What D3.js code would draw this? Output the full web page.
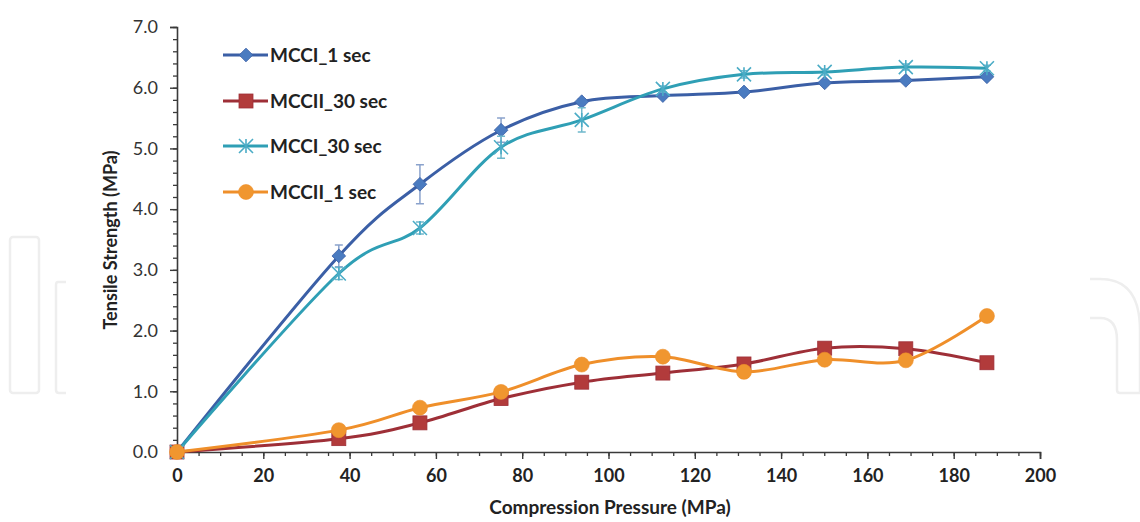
<!DOCTYPE html>
<html><head><meta charset="utf-8">
<script src="https://cdn.jsdelivr.net/npm/d3@7"></script>
<style>html,body{margin:0;padding:0;background:#fff;}svg{display:block;}</style>
</head><body>
<svg id="chart" width="1140" height="522"></svg>
<script>
// ---- data ----
const pressure = [0, 37.5, 56.3, 75.1, 93.8, 112.6, 131.4, 150.1, 168.9, 187.7];
const mcci1 = [0, 3.23, 4.41, 5.30, 5.77, 5.87, 5.93, 6.08, 6.12, 6.18];
const mcci1Err = [0, 0.18, 0.32, 0.20, 0.05, 0.04, 0.04, 0.04, 0.04, 0.04];
const mccii30 = [0, 0.22, 0.48, 0.88, 1.15, 1.30, 1.45, 1.71, 1.70, 1.47];
const mcci30 = [0, 2.94, 3.69, 5.02, 5.47, 5.98, 6.22, 6.26, 6.34, 6.32];
const mcci30Err = [0, 0.10, 0.10, 0.18, 0.20, 0.05, 0.06, 0.05, 0.05, 0.05];
const mccii1 = [0, 0.36, 0.73, 0.99, 1.44, 1.57, 1.32, 1.52, 1.51, 2.24];
const seriesNames = ["MCCI_1 sec", "MCCII_30 sec", "MCCI_30 sec", "MCCII_1 sec"];
const xTicks = [0, 20, 40, 60, 80, 100, 120, 140, 160, 180, 200];
const yTicks = [0, 1, 2, 3, 4, 5, 6, 7];
const xTitle = "Compression Pressure (MPa)";
const yTitle = "Tensile Strength (MPa)";

const series = [
  {name: seriesNames[0], values: mcci1, err: mcci1Err, line: "#3b5fa6", fill: "#4a7bc0", errc: "#8aa2cc", marker: "diamond"},
  {name: seriesNames[1], values: mccii30, err: null, line: "#9e2f37", fill: "#b23b3b", marker: "square"},
  {name: seriesNames[2], values: mcci30, err: mcci30Err, line: "#2f9fb5", fill: "#4bacc6", errc: "#6fb8cc", marker: "star"},
  {name: seriesNames[3], values: mccii1, err: null, line: "#ef8f2a", fill: "#f0962f", marker: "circle"}
];

const svg = d3.select("#chart");
const x = d3.scaleLinear().domain([0, 200]).range([177, 1040]);
const y = d3.scaleLinear().domain([0, 7]).range([452, 27]);

// ---- watermark (faint logo outlines) ----
const wm = svg.append("g").attr("fill", "none").attr("stroke", "#eeeeee").attr("stroke-width", 2.5);
wm.append("rect").attr("x", 10).attr("y", 237).attr("width", 29).attr("height", 156).attr("rx", 3);
wm.append("path").attr("d", "M66,282 L58,282 Q56,282 56,285 L56,390 Q56,393 59,393 L66,393");
wm.append("path").attr("d", "M1090,279 L1100,279 Q1140,279 1140,330 L1140,393 M1090,318 L1100,318 Q1117,318 1117,340 L1117,390 Q1117,393 1120,393 L1140,393");

// ---- axes ----
const axisColor = "#3a3a3a";
const gx = svg.append("g").attr("transform", `translate(0,${y(0)})`);
gx.call(d3.axisBottom(x).tickValues(d3.range(0, 201, 5)).tickSize(4).tickFormat(""));
gx.selectAll(".tick line").attr("stroke", axisColor).attr("stroke-width", 1.3);
gx.select(".domain").remove();
const gx2 = svg.append("g").attr("transform", `translate(0,${y(0)})`);
gx2.call(d3.axisBottom(x).tickValues(xTicks).tickSize(7).tickPadding(10).tickFormat(d3.format("d")));
gx2.select(".domain").attr("stroke", axisColor).attr("stroke-width", 1.6);
gx2.selectAll(".tick line").attr("stroke", axisColor).attr("stroke-width", 1.4);
gx2.selectAll(".tick text").attr("font-family", "Lato, sans-serif").attr("font-size", 18).attr("font-weight", "bold").attr("fill", "#222");

const gy = svg.append("g").attr("transform", `translate(${x(0)},0)`);
gy.call(d3.axisLeft(y).tickValues(d3.range(0, 7.01, 0.2)).tickSize(4).tickFormat(""));
gy.selectAll(".tick line").attr("stroke", axisColor).attr("stroke-width", 1.3);
gy.select(".domain").remove();
const gy2 = svg.append("g").attr("transform", `translate(${x(0)},0)`);
gy2.call(d3.axisLeft(y).tickValues(yTicks).tickSize(7).tickPadding(12).tickFormat(d3.format(".1f")));
gy2.select(".domain").attr("stroke", axisColor).attr("stroke-width", 1.6);
gy2.selectAll(".tick line").attr("stroke", axisColor).attr("stroke-width", 1.4);
gy2.selectAll(".tick text").attr("font-family", "Lato, sans-serif").attr("font-size", 18).attr("fill", "#333");

svg.append("text").attr("x", 610).attr("y", 514).attr("text-anchor", "middle")
  .attr("font-family", "Lato, sans-serif").attr("font-size", 19).attr("font-weight", "bold").attr("fill", "#222").text(xTitle);
svg.append("text").attr("transform", "translate(117,240) rotate(-90)").attr("text-anchor", "middle")
  .attr("font-family", "Lato, sans-serif").attr("font-size", 18).attr("font-weight", "bold").attr("fill", "#222").text(yTitle);

// ---- markers ----
function drawMarker(g, type, cx, cy, s) {
  if (type === "diamond") {
    g.append("path").attr("d", d3.symbol(d3.symbolDiamond2, 120)()).attr("transform", `translate(${cx},${cy})`)
      .attr("fill", s.fill).attr("stroke", s.line).attr("stroke-width", 0.8);
  } else if (type === "square") {
    g.append("rect").attr("x", cx - 7).attr("y", cy - 7).attr("width", 14).attr("height", 14)
      .attr("fill", s.fill).attr("stroke", s.line).attr("stroke-width", 0.8);
  } else if (type === "circle") {
    g.append("circle").attr("cx", cx).attr("cy", cy).attr("r", 7.5).attr("fill", s.fill).attr("stroke", s.line).attr("stroke-width", 0.6);
  } else if (type === "star") {
    const r = 7;
    g.append("path").attr("d", `M${cx - r},${cy - r}L${cx + r},${cy + r}M${cx - r},${cy + r}L${cx + r},${cy - r}M${cx},${cy - r}L${cx},${cy + r}`)
      .attr("stroke", s.fill).attr("stroke-width", 1.6).attr("fill", "none");
  }
}

const line = d3.line().x(d => x(d[0])).y(d => y(d[1])).curve(d3.curveCardinal.tension(0));

series.forEach(s => {
  const pts = pressure.map((p, i) => [p, s.values[i]]);
  const g = svg.append("g");
  if (s.err) {
    pts.forEach((d, i) => {
      const e = s.err[i];
      if (!e) return;
      const cx = x(d[0]), y1 = y(d[1] + e), y2 = y(d[1] - e);
      g.append("path").attr("d", `M${cx},${y1}L${cx},${y2}M${cx - 4},${y1}L${cx + 4},${y1}M${cx - 4},${y2}L${cx + 4},${y2}`)
        .attr("stroke", s.errc).attr("stroke-width", 1.5).attr("fill", "none");
    });
  }
  g.append("path").datum(pts).attr("d", line).attr("fill", "none").attr("stroke", s.line).attr("stroke-width", 3);
  pts.forEach(d => drawMarker(g, s.marker, x(d[0]), y(d[1]), s));
});

// ---- legend ----
const leg = svg.append("g");
const legY = [55, 101, 146, 192];
series.forEach((s, i) => {
  const yy = legY[i];
  leg.append("line").attr("x1", 223).attr("x2", 268).attr("y1", yy).attr("y2", yy).attr("stroke", s.line).attr("stroke-width", 3);
  drawMarker(leg, s.marker, 246, yy, s);
  leg.append("text").attr("x", 270).attr("y", yy).attr("dy", "0.36em")
    .attr("font-family", "Lato, sans-serif").attr("font-size", 19).attr("font-weight", "bold").attr("fill", "#222").text(s.name);
});
</script>
</body></html>
